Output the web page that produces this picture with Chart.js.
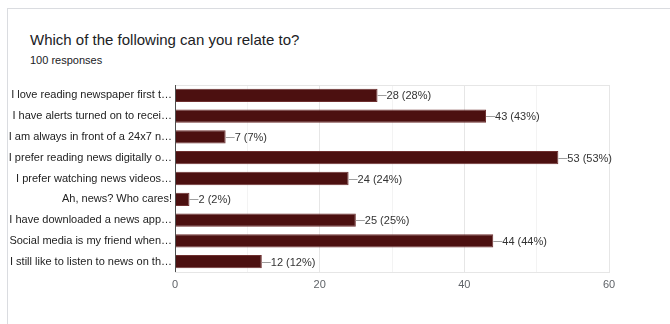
<!DOCTYPE html>
<html>
<head>
<meta charset="utf-8">
<script src="https://cdn.jsdelivr.net/npm/chart.js@4"></script>
<style>
  html, body { margin: 0; padding: 0; background: #fff; width: 670px; height: 324px; overflow: hidden; }
  #card { position: absolute; left: 7px; top: 8px; width: 720px; height: 400px; border: 1px solid #dadce0; box-sizing: border-box; }
  #title { position: absolute; left: 30px; top: 31px; font-family: "Liberation Sans", Arial, sans-serif; font-size: 15px; color: #202124; }
  #sub { position: absolute; left: 30px; top: 54px; font-family: "Liberation Sans", Arial, sans-serif; font-size: 11px; color: #202124; }
  #wrap { position: absolute; left: 0; top: 0; width: 670px; height: 324px; }
</style>
</head>
<body>
<div id="card"></div>
<div id="title">Which of the following can you relate to?</div>
<div id="sub">100 responses</div>
<div id="wrap"><canvas id="c" width="670" height="324"></canvas></div>
<script>
const categories = [
  "I love reading newspaper first t\u2026",
  "I have alerts turned on to recei\u2026",
  "I am always in front of a 24x7 n\u2026",
  "I prefer reading news digitally o\u2026",
  "I prefer watching news videos\u2026",
  "Ah, news? Who cares!",
  "I have downloaded a news app\u2026",
  "Social media is my friend when\u2026",
  "I still like to listen to news on th\u2026"
];
const counts = [28, 43, 7, 53, 24, 2, 25, 44, 12];
const percents = [28, 43, 7, 53, 24, 2, 25, 44, 12];
const xTicks = [0, 20, 40, 60];

const FONT = '"Liberation Sans", Arial, sans-serif';

const labelPlugin = {
  id: 'valueLabels',
  afterDatasetsDraw(chart) {
    const ctx = chart.ctx;
    const meta = chart.getDatasetMeta(0);
    ctx.save();
    ctx.font = '11px ' + FONT;
    ctx.textBaseline = 'middle';
    ctx.textAlign = 'left';
    meta.data.forEach((bar, i) => {
      const x = bar.x, y = Math.round(bar.y) + 0.5;
      ctx.strokeStyle = '#9e9e9e';
      ctx.lineWidth = 1;
      ctx.beginPath();
      ctx.moveTo(x, y);
      ctx.lineTo(x + 9, y);
      ctx.stroke();
      ctx.fillStyle = '#333333';
      ctx.fillText(counts[i] + ' (' + percents[i] + '%)', x + 9, y);
    });
    ctx.restore();
  },
  beforeDatasetsDraw(chart) {
    const {ctx, chartArea} = chart;
    ctx.save();
    ctx.strokeStyle = '#e6e6e6';
    ctx.lineWidth = 1;
    ctx.beginPath();
    ctx.moveTo(chartArea.left, Math.round(chartArea.top) + 0.5);
    ctx.lineTo(chartArea.right, Math.round(chartArea.top) + 0.5);
    ctx.stroke();
    ctx.restore();
  },
  afterDraw(chart) {
    const {ctx, chartArea} = chart;
    ctx.save();
    ctx.strokeStyle = '#4d4d4d';
    ctx.lineWidth = 1;
    ctx.beginPath();
    const x = Math.round(chartArea.left) + 0.5;
    ctx.moveTo(x, chartArea.top);
    ctx.lineTo(x, chartArea.bottom);
    ctx.stroke();
    ctx.restore();
  }
};

new Chart(document.getElementById('c'), {
  type: 'bar',
  data: {
    labels: categories,
    datasets: [{
      data: counts,
      backgroundColor: '#4c1010',
      borderColor: '#6e2f2f',
      borderWidth: 1,
      barPercentage: 0.64,
      categoryPercentage: 1.0
    }]
  },
  options: {
    indexAxis: 'y',
    responsive: false,
    animation: false,
    layout: { padding: { top: 85, right: 61, bottom: 0, left: 0 } },
    plugins: { legend: { display: false }, tooltip: { enabled: false } },
    scales: {
      x: {
        min: 0, max: 60,
        afterBuildTicks(scale) {
          scale.ticks = [0, 10, 20, 30, 40, 50, 60].map(v => ({ value: v }));
        },
        afterFit(scale) { scale.height = 52; },
        ticks: {
          callback: v => xTicks.includes(v) ? String(v) : '',
          color: '#5f6368',
          font: { family: FONT, size: 11 },
          padding: 6,
          maxRotation: 0,
          autoSkip: false
        },
        grid: {
          drawTicks: false,
          color: ctx => (ctx.tick && xTicks.includes(ctx.tick.value)) ? '#e6e6e6' : '#f3f3f3'
        },
        border: { display: true, color: '#e6e6e6' }
      },
      y: {
        afterFit(scale) { scale.width = 175; },
        ticks: {
          color: '#222222',
          font: { family: FONT, size: 11 },
          padding: 3,
          autoSkip: false
        },
        grid: { display: false, drawTicks: false },
        border: { display: false }
      }
    }
  },
  plugins: [labelPlugin]
});
</script>
</body>
</html>
